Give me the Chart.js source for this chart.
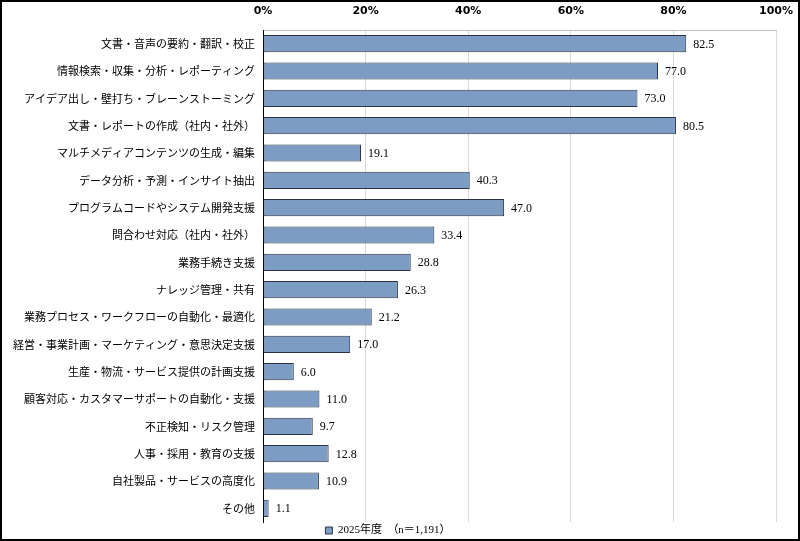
<!DOCTYPE html>
<html>
<head>
<meta charset="utf-8">
<script src="https://cdn.jsdelivr.net/npm/chart.js@4"></script>
<style>
  html, body { margin: 0; padding: 0; background: #fff; }
  #wrap { position: relative; width: 800px; height: 541px; }
</style>
</head>
<body>
<div id="wrap"><canvas id="chart" width="800" height="541"></canvas></div>
<script>
// カテゴリ（利用用途）
const categories = [
    '文書・音声の要約・翻訳・校正',
    '情報検索・収集・分析・レポーティング',
    'アイデア出し・壁打ち・ブレーンストーミング',
    '文書・レポートの作成（社内・社外）',
    'マルチメディアコンテンツの生成・編集',
    'データ分析・予測・インサイト抽出',
    'プログラムコードやシステム開発支援',
    '問合わせ対応（社内・社外）',
    '業務手続き支援',
    'ナレッジ管理・共有',
    '業務プロセス・ワークフローの自動化・最適化',
    '経営・事業計画・マーケティング・意思決定支援',
    '生産・物流・サービス提供の計画支援',
    '顧客対応・カスタマーサポートの自動化・支援',
    '不正検知・リスク管理',
    '人事・採用・教育の支援',
    '自社製品・サービスの高度化',
    'その他'
];

// 2025年度の値（%）
const values2025 = [82.5, 77.0, 73.0, 80.5, 19.1, 40.3, 47.0, 33.4, 28.8, 26.3, 21.2, 17.0, 6.0, 11.0, 9.7, 12.8, 10.9, 1.1];

const seriesLabel = '2025年度　（n＝1,191）';
const xTicks = [0, 20, 40, 60, 80, 100];

const jpFont = '"Noto Sans CJK JP", "Noto Sans", sans-serif';

// 棒の右に数値を描く
const valueLabels = {
    id: 'valueLabels',
    afterDatasetsDraw(chart) {
        const ctx = chart.ctx;
        const meta = chart.getDatasetMeta(0);
        ctx.save();
        ctx.font = '12px "Liberation Serif", "DejaVu Serif", serif';
        ctx.fillStyle = '#000';
        ctx.textBaseline = 'middle';
        ctx.textAlign = 'left';
        meta.data.forEach((bar, i) => {
            ctx.fillText(values2025[i].toFixed(1), bar.x + 7, bar.y + 1);
        });
        ctx.restore();
    }
};

// 外枠
const frame = {
    id: 'frame',
    afterDraw(chart) {
        const ctx = chart.ctx;
        ctx.save();
        ctx.strokeStyle = '#000';
        ctx.lineWidth = 2;
        ctx.strokeRect(1, 1, chart.width - 2, chart.height - 2);
        ctx.restore();
    }
};

new Chart(document.getElementById('chart'), {
    type: 'bar',
    data: {
        labels: categories,
        datasets: [{
            label: seriesLabel,
            data: values2025,
            backgroundColor: '#7d9cc4',
            borderColor: '#2a3442',
            borderWidth: 1,
            borderSkipped: false,
            barPercentage: 0.63,
            categoryPercentage: 1.0
        }]
    },
    options: {
        indexAxis: 'y',
        responsive: false,
        animation: false,
        layout: { padding: { left: 0, right: 24, top: 0, bottom: 0 } },
        scales: {
            x: {
                position: 'top',
                min: 0,
                max: 100,
                afterBuildTicks: (scale) => { scale.ticks = xTicks.map(v => ({ value: v })); },
                afterFit: (scale) => {
                    scale.height = 30;
                    scale.paddingLeft = 0;
                    scale.paddingRight = 0;
                },
                ticks: {
                    callback: v => v + '%',
                    font: { family: '"DejaVu Sans", sans-serif', size: 11, weight: 'bold' },
                    color: '#000',
                    padding: 12
                },
                grid: { color: '#d9d9d9', drawTicks: false },
                border: { display: true, color: '#bfbfbf' }
            },
            y: {
                afterFit: (scale) => { scale.width = 263; },
                ticks: {
                    font: { family: jpFont, size: 11 },
                    color: '#000',
                    padding: 8,
                    autoSkip: false
                },
                grid: { display: false, drawTicks: false },
                border: { display: true, color: '#000', width: 1 }
            }
        },
        plugins: {
            legend: {
                position: 'bottom',
                maxHeight: 19,
                labels: {
                    boxWidth: 7,
                    boxHeight: 7,
                    padding: 3,
                    color: '#000',
                    font: { family: '"Liberation Serif", "Noto Sans CJK JP", serif', size: 11 }
                }
            },
            tooltip: { enabled: false }
        }
    },
    plugins: [valueLabels, frame]
});
</script>
</body>
</html>
